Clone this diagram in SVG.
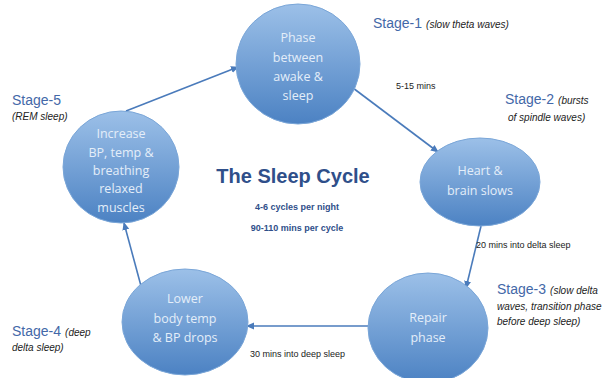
<svg xmlns="http://www.w3.org/2000/svg" width="612" height="378" viewBox="0 0 612 378">
<defs>
<linearGradient id="g" x1="0" y1="0" x2="0" y2="1">
<stop offset="0" stop-color="#9cc0e8"/>
<stop offset="1" stop-color="#4c82c3"/>
</linearGradient>
<marker id="ah" markerWidth="8" markerHeight="8" refX="7" refY="4" orient="auto" markerUnits="userSpaceOnUse">
<path d="M0,0.5 L8,4 L0,7.5 Z" fill="#4a7bbb"/>
</marker>
</defs>
<style>
.node ellipse{fill:url(#g);stroke:#7aa6d8;stroke-width:1}
.nt{font-family:"Open Sans","Liberation Sans",sans-serif;font-size:12.5px;fill:#e4eef9;text-anchor:middle}
.conn line{stroke:#4a7bbb;stroke-width:1.6;marker-end:url(#ah)}
.stg{font-family:"Liberation Sans",Arial,sans-serif;font-size:14px;fill:#4368a8}
.it{font-family:"Liberation Sans",Arial,sans-serif;font-size:10px;font-style:italic;fill:#222}
.lbl{font-family:"Liberation Sans",Arial,sans-serif;font-size:9px;fill:#222}
.title{font-family:"Liberation Sans",Arial,sans-serif;font-weight:bold;fill:#2f4f8a;text-anchor:middle}
</style>
<rect width="612" height="378" fill="#ffffff"/>
<g class="conn">
<line x1="126" y1="111" x2="238" y2="67"/>
<line x1="353" y1="88" x2="438" y2="152"/>
<line x1="481" y1="226" x2="466" y2="288"/>
<line x1="368" y1="326" x2="247" y2="326"/>
<line x1="141" y1="286" x2="124" y2="223"/>
</g>
<g id="node1" class="node">
<ellipse cx="298" cy="64" rx="62" ry="60"/>
<text class="nt" x="298" y="42">Phase</text>
<text class="nt" x="298" y="62">between</text>
<text class="nt" x="298" y="81">awake &amp;</text>
<text class="nt" x="298" y="100">sleep</text>
</g>
<g id="node2" class="node">
<ellipse cx="480" cy="182" rx="60" ry="44"/>
<text class="nt" x="480" y="175">Heart &amp;</text>
<text class="nt" x="480" y="195">brain slows</text>
</g>
<g id="node3" class="node">
<ellipse cx="428" cy="328" rx="60" ry="55"/>
<text class="nt" x="428" y="322">Repair</text>
<text class="nt" x="428" y="342">phase</text>
</g>
<g id="node4" class="node">
<ellipse cx="185" cy="322" rx="63" ry="53"/>
<text class="nt" x="185" y="303">Lower</text>
<text class="nt" x="185" y="323">body temp</text>
<text class="nt" x="185" y="342">&amp; BP drops</text>
</g>
<g id="node5" class="node">
<ellipse cx="121" cy="167" rx="58" ry="56"/>
<text class="nt" x="121" y="138">Increase</text>
<text class="nt" x="121" y="157">BP, temp &amp;</text>
<text class="nt" x="121" y="175">breathing</text>
<text class="nt" x="121" y="193">relaxed</text>
<text class="nt" x="121" y="212">muscles</text>
</g>
<g id="labels">
<text x="373" y="28"><tspan class="stg">Stage-1</tspan><tspan class="it" dx="4">(slow theta waves)</tspan></text>
<text class="lbl" x="396" y="89">5-15 mins</text>
<text x="505" y="104"><tspan class="stg">Stage-2</tspan><tspan class="it" dx="4">(bursts</tspan></text>
<text class="it" x="508" y="121">of spindle waves)</text>
<text class="stg" x="12" y="105">Stage-5</text>
<text class="it" x="12" y="120">(REM sleep)</text>
<text class="title" x="293" y="183" font-size="20">The Sleep Cycle</text>
<text class="title" x="297" y="210" font-size="9">4-6 cycles per night</text>
<text class="title" x="297" y="231" font-size="9">90-110 mins per cycle</text>
<text class="lbl" x="476" y="248">20  mins into delta sleep</text>
<text x="497" y="294"><tspan class="stg">Stage-3</tspan><tspan class="it" dx="4">(slow delta</tspan></text>
<text class="it" x="497" y="310">waves, transition phase</text>
<text class="it" x="497" y="325">before deep sleep)</text>
<text x="12" y="336"><tspan class="stg">Stage-4</tspan><tspan class="it" dx="4">(deep</tspan></text>
<text class="it" x="12" y="351">delta sleep)</text>
<text class="lbl" x="250" y="357">30  mins into deep sleep</text>
</g>
</svg>
